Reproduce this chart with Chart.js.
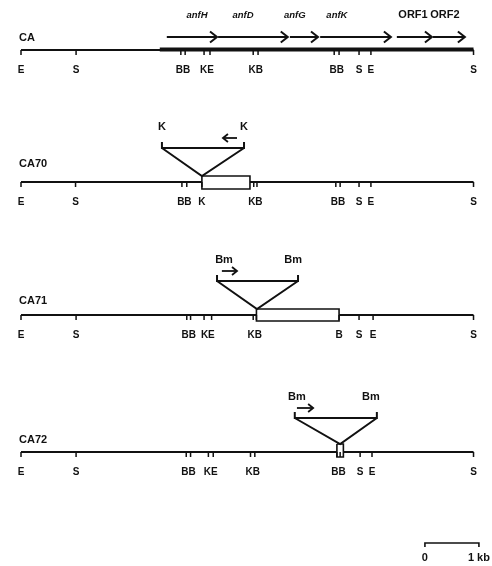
<!DOCTYPE html>
<html>
<head>
<meta charset="utf-8">
<script src="https://cdn.jsdelivr.net/npm/chart.js@4.4.1/dist/chart.umd.min.js"></script>
<style>
html, body { margin: 0; padding: 0; background: #fff; }
canvas { display: block; }
</style>
</head>
<body>
<canvas id="mapChart" width="492" height="566"></canvas>
<script>
// positions in kb, measured from the left EcoRI site
var mapLength = 8.38;
var strains = ['CA', 'CA70', 'CA71', 'CA72'];

var caEnz   = ['E', 'S', 'B', 'B', 'K', 'E', 'K', 'B', 'B', 'B', 'S', 'E', 'S'];
var caPos   = [0, 1.02, 2.96, 3.04, 3.39, 3.50, 4.30, 4.39, 5.80, 5.89, 6.26, 6.48, 8.38];
var ca70Enz = ['E', 'S', 'B', 'B', 'K', 'K', 'B', 'B', 'B', 'S', 'E', 'S'];
var ca70Pos = [0, 1.01, 2.98, 3.07, 3.35, 4.31, 4.37, 5.83, 5.91, 6.26, 6.48, 8.38];
var ca71Enz = ['E', 'S', 'B', 'B', 'K', 'E', 'K', 'B', 'B', 'S', 'E', 'S'];
var ca71Pos = [0, 1.02, 3.07, 3.14, 3.39, 3.53, 4.30, 4.36, 5.89, 6.26, 6.52, 8.38];
var ca72Enz = ['E', 'S', 'B', 'B', 'K', 'E', 'K', 'B', 'B', 'B', 'S', 'E', 'S'];
var ca72Pos = [0, 1.02, 3.06, 3.14, 3.47, 3.56, 4.25, 4.33, 5.85, 5.91, 6.28, 6.50, 8.38];

var genes       = ['anfH', 'anfD', 'anfG', 'anfK', 'ORF1', 'ORF2'];
var geneStart   = [2.70, 3.65, 4.98, 5.54, 6.96, 7.63];
var geneEnd     = [3.63, 4.94, 5.50, 6.85, 7.61, 8.22];
var geneLabelAt = [3.26, 4.11, 5.07, 5.85, 7.26, 7.85];
var heavyFrom   = 2.57;

// insertions in CA70, CA71, CA72
var insSite       = ['K', 'Bm', 'Bm'];
var insLeft       = [2.61, 3.63, 5.07];
var insRight      = [4.13, 5.13, 6.59];
var insAt         = [3.35, 4.37, 5.91];
var insLabelLeft  = [2.61, 3.76, 5.11];
var insLabelRight = [4.13, 5.04, 6.48];
var boxStart      = [3.35, 4.36, 5.85];
var boxEnd        = [4.24, 5.89, 5.97];
var dirFrom       = [4.00, 3.72, 5.11];
var dirTo         = [3.74, 4.00, 5.41];

var scaleBarAt = 7.48;
var scaleBarKb = 1;

// layout (y axis runs in page rows, top down)
var trackY   = [50, 182, 315, 452];
var labelY   = [38, 164, 301, 440];
var geneY    = 37;
var boxUp    = [6, 6, 8];
var boxDown  = [7, 6, 5];
var ink      = '#111';

var siteEnz = [caEnz, ca70Enz, ca71Enz, ca72Enz];
var sitePos = [caPos, ca70Pos, ca71Pos, ca72Pos];

function gap(x) { return { x: x, y: null }; }

function lineSet(data, width, order) {
    return {
        type: 'scatter', data: data, showLine: true,
        borderColor: ink, borderWidth: width, pointRadius: 0,
        fill: false, order: order
    };
}

var datasets = [];

strains.forEach(function (s, t) {
    var y = trackY[t];
    datasets.push(lineSet([{ x: 0, y: y }, { x: mapLength, y: y }], 1.8, 5));

    var ticks = [];
    sitePos[t].forEach(function (p) {
        ticks.push({ x: p, y: y }, { x: p, y: y + 5 }, gap(p));
    });
    datasets.push(lineSet(ticks, 1.5, 1));
});

datasets.push(lineSet([{ x: heavyFrom, y: trackY[0] - 0.5 }, { x: mapLength, y: trackY[0] - 0.5 }], 4, 4));

var shafts = [];
genes.forEach(function (g, i) {
    shafts.push({ x: geneStart[i], y: geneY }, { x: geneEnd[i], y: geneY }, gap(geneEnd[i]));
});
datasets.push(lineSet(shafts, 1.8, 1));

insSite.forEach(function (s, i) {
    var y = trackY[i + 1];
    var top = y - 34;
    var apex = y - boxUp[i];
    datasets.push(lineSet([
        { x: insLeft[i], y: top - 6 }, { x: insLeft[i], y: top },
        { x: insRight[i], y: top }, { x: insRight[i], y: top - 6 }, gap(insRight[i]),
        { x: insLeft[i], y: top }, { x: insAt[i], y: apex }, { x: insRight[i], y: top }
    ], 2, 1));

    var box = lineSet([
        { x: boxStart[i], y: y - boxUp[i] }, { x: boxEnd[i], y: y - boxUp[i] },
        { x: boxEnd[i], y: y + boxDown[i] }, { x: boxStart[i], y: y + boxDown[i] },
        { x: boxStart[i], y: y - boxUp[i] }
    ], 1.6, 2);
    box.fill = 'shape';
    box.backgroundColor = '#fff';
    datasets.push(box);
});

datasets.push(lineSet([
    { x: scaleBarAt, y: 547 }, { x: scaleBarAt, y: 543 },
    { x: scaleBarAt + scaleBarKb, y: 543 }, { x: scaleBarAt + scaleBarKb, y: 547 }
], 1.6, 1));

function groupSites(enz, pos) {
    var groups = [];
    enz.forEach(function (e, i) {
        var last = groups[groups.length - 1];
        if (last && pos[i] - last.pos[last.pos.length - 1] < 0.18) {
            last.text += e;
            last.pos.push(pos[i]);
        } else {
            groups.push({ text: e, pos: [pos[i]] });
        }
    });
    return groups.map(function (g) {
        var sum = g.pos.reduce(function (a, b) { return a + b; }, 0);
        return { text: g.text, at: sum / g.pos.length };
    });
}

function arrowHead(ctx, x, y, dir, len, half) {
    ctx.beginPath();
    ctx.moveTo(x - dir * len, y - half);
    ctx.lineTo(x, y);
    ctx.lineTo(x - dir * len, y + half);
    ctx.stroke();
}

var mapText = {
    id: 'mapText',
    afterDatasetsDraw: function (chart) {
        var ctx = chart.ctx;
        var xs = chart.scales.x, ys = chart.scales.y;
        ctx.save();
        ctx.fillStyle = ink;
        ctx.strokeStyle = ink;
        ctx.textBaseline = 'middle';

        // strain names
        ctx.font = 'bold 11px "Liberation Sans", Arial, sans-serif';
        ctx.textAlign = 'left';
        strains.forEach(function (s, t) {
            ctx.fillText(s, 19, ys.getPixelForValue(labelY[t]));
        });

        // restriction sites
        ctx.font = 'bold 10px "Liberation Sans", Arial, sans-serif';
        ctx.textAlign = 'center';
        strains.forEach(function (s, t) {
            groupSites(siteEnz[t], sitePos[t]).forEach(function (g) {
                ctx.fillText(g.text, xs.getPixelForValue(g.at), ys.getPixelForValue(trackY[t] + 20));
            });
        });

        // gene names and arrowheads
        genes.forEach(function (g, i) {
            ctx.font = i < 4 ? 'italic bold 9.5px "Liberation Sans", Arial, sans-serif'
                             : 'bold 11px "Liberation Sans", Arial, sans-serif';
            ctx.fillText(g, xs.getPixelForValue(geneLabelAt[i]), ys.getPixelForValue(15));
            ctx.lineWidth = 2;
            arrowHead(ctx, xs.getPixelForValue(geneEnd[i]), ys.getPixelForValue(geneY), 1, 7, 5.5);
        });

        // insertion ends and orientation arrows
        ctx.font = 'bold 11px "Liberation Sans", Arial, sans-serif';
        insSite.forEach(function (s, i) {
            var top = trackY[i + 1] - 34;
            ctx.fillText(s, xs.getPixelForValue(insLabelLeft[i]), ys.getPixelForValue(top - 21));
            ctx.fillText(s, xs.getPixelForValue(insLabelRight[i]), ys.getPixelForValue(top - 21));

            var ay = ys.getPixelForValue(top - 10);
            var x0 = xs.getPixelForValue(dirFrom[i]);
            var x1 = xs.getPixelForValue(dirTo[i]);
            ctx.lineWidth = 1.8;
            ctx.beginPath();
            ctx.moveTo(x0, ay);
            ctx.lineTo(x1, ay);
            ctx.stroke();
            arrowHead(ctx, x1, ay, x1 > x0 ? 1 : -1, 5, 4);
        });

        // scale bar
        ctx.font = 'bold 11px "Liberation Sans", Arial, sans-serif';
        ctx.fillText('0', xs.getPixelForValue(scaleBarAt), ys.getPixelForValue(558));
        ctx.fillText(scaleBarKb + ' kb', xs.getPixelForValue(scaleBarAt + scaleBarKb), ys.getPixelForValue(558));
        ctx.restore();
    }
};

new Chart(document.getElementById('mapChart'), {
    type: 'scatter',
    data: { datasets: datasets },
    options: {
        responsive: false,
        animation: false,
        devicePixelRatio: 1,
        events: [],
        layout: { padding: 0 },
        plugins: {
            legend: { display: false },
            tooltip: { enabled: false }
        },
        elements: {
            point: { radius: 0, hoverRadius: 0 },
            line: { tension: 0, borderCapStyle: 'butt' }
        },
        scales: {
            x: { type: 'linear', display: false, min: -21 / 54, max: 471 / 54 },
            y: { type: 'linear', display: false, min: 0, max: 566, reverse: true }
        }
    },
    plugins: [mapText]
});
</script>
</body>
</html>
